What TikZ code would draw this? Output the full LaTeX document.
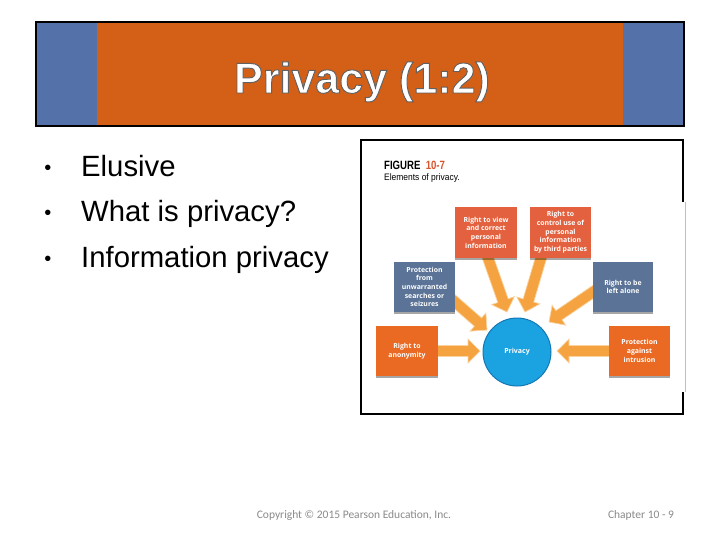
\documentclass[tikz,border=0pt]{standalone}
\usepackage{fontspec}
\setmainfont{Liberation Sans}
\newfontfamily\figfont{Open Sans}
\newfontfamily\footfont{Carlito}
\usetikzlibrary{calc,shadows}
\definecolor{barblue}{HTML}{5571A9}
\definecolor{barorange}{HTML}{D45F16}
\definecolor{boxred}{HTML}{E4613F}
\definecolor{boxblue}{HTML}{5A7396}
\definecolor{boxorange}{HTML}{EA6A24}
\definecolor{privblue}{HTML}{1BA3E1}
\definecolor{privedge}{HTML}{1478B4}
\definecolor{arrowor}{HTML}{F5A240}
\definecolor{arrowedge}{HTML}{FAD3A0}
\definecolor{figred}{HTML}{D9532B}
\definecolor{footgray}{HTML}{8A8A8A}

\newcommand\blkarrow[2]{%
  \coordinate (bs) at ($(#1)!-6pt!(#2)$);
  \coordinate (bh) at ($(#2)!12pt!(#1)$);
  \filldraw[arrowfill] ($(bs)!5.5pt!90:(#2)$) -- ($(bh)!5.5pt!-90:(bs)$)
    -- ($(bh)!12pt!-90:(bs)$) -- (#2) -- ($(bh)!12pt!90:(bs)$)
    -- ($(bh)!5.5pt!90:(bs)$) -- ($(bs)!5.5pt!-90:(#2)$) -- cycle;}

\tikzset{
  arrowfill/.style={fill=arrowor, draw=arrowedge, line width=0.7pt, line join=miter},
  figbox/.style={minimum width=61pt, minimum height=50pt, inner sep=1pt, align=center,
    text=white, font=\figfont\bfseries\fontsize{6.9}{8.7}\selectfont,
    drop shadow={shadow xshift=0.4pt, shadow yshift=-1.6pt, fill=black, opacity=0.35}},
  titletext/.style={anchor=base, inner sep=0pt, font=\fontsize{43}{50}\selectfont\bfseries},
  bulletdot/.style={anchor=base, inner sep=0pt, font=\fontsize{20}{24}\selectfont},
  bullettext/.style={anchor=base west, inner sep=0pt, font=\fontsize{29.3}{34}\selectfont},
  foot/.style={inner sep=0pt, text=footgray, font=\footfont\fontsize{11.5}{13}\selectfont}
}

\begin{document}
\begin{tikzpicture}[x=1pt,y=-1pt]
\useasboundingbox (0,0) rectangle (720,540);
\fill[white] (0,0) rectangle (720,540);

% title bar
\fill[barblue] (36,22) rectangle (684,126);
\fill[barorange] (97,22) rectangle (623,126);
\draw[line width=1.8pt] (36,22) rectangle (684,126);
\node[titletext, text=white] (title) at (362,93)
  {\addfontfeature{FakeBold=2.2}\special{pdf:code 0.38 0.38 0.38 RG}Privacy (1:2)};

% bullets
\node[bulletdot] (d1) at (48,175) {•};
\node[bullettext] (l1) at (81,177) {Elusive};
\node[bulletdot] (d2) at (48,220) {•};
\node[bullettext] (l2) at (81,222) {What is privacy?};
\node[bulletdot] (d3) at (48,265) {•};
\node[bullettext] (l3) at (81,267) {Information privacy};

% figure frame
\draw[line width=2pt] (683,202) -- (683,140) -- (361,140) -- (361,414) -- (683,414) -- (683,392);
\draw[black!25, line width=0.6pt] (685,202) -- (685,392);

\node[anchor=base west, inner sep=0pt, xscale=0.8, font=\fontsize{12}{14}\selectfont\bfseries] (fig) at (384,170) {FIGURE\ \ \textcolor{figred}{10-7}};
\node[anchor=base west, inner sep=0pt, xscale=0.9, font=\fontsize{9.4}{11}\selectfont] (cap) at (384,181) {Elements of privacy.};

% central circle
\node[circle, minimum size=68pt, inner sep=0pt, fill=privblue, draw=privedge, line width=1pt] (priv) at (517,352) {};

% box positions
\coordinate (cview) at (486,232.5);
\coordinate (cctrl) at (560.5,232.5);
\coordinate (csrch) at (424.5,287);
\coordinate (calone) at (623,287);
\coordinate (canon) at (407,351);
\coordinate (cintr) at (639.5,351);

% arrow start and tip coordinates
\coordinate (sview) at (488,258);
\coordinate (tview) at (507,312);
\coordinate (sctrl) at (541,258);
\coordinate (tctrl) at (525,312);
\coordinate (ssrch) at (455,302);
\coordinate (tsrch) at (487,330);
\coordinate (salone) at (593,292);
\coordinate (talone) at (549,322);
\coordinate (sanon) at (438,351);
\coordinate (tanon) at (480,351);
\coordinate (sintr) at (609,351);
\coordinate (tintr) at (557,351);

\blkarrow{sview}{tview}
\blkarrow{sctrl}{tctrl}
\blkarrow{ssrch}{tsrch}
\blkarrow{salone}{talone}
\blkarrow{sanon}{tanon}
\blkarrow{sintr}{tintr}

\node[figbox, fill=boxred, minimum width=62pt, minimum height=51pt] (view) at (cview) {Right to view\\and correct\\personal\\information};
\node[figbox, fill=boxred, minimum height=51pt] (ctrl) at (cctrl) {Right to\\control use of\\personal\\information\\by third parties};
\node[figbox, fill=boxblue] (srch) at (csrch) {Protection\\from\\unwarranted\\searches or\\seizures};
\node[figbox, fill=boxblue, minimum width=60pt] (alone) at (calone) {Right to be\\left alone};
\node[figbox, fill=boxorange, minimum width=62pt] (anon) at (canon) {Right to\\anonymity};
\node[figbox, fill=boxorange] (intr) at (cintr) {Protection\\against\\intrusion};

\node[text=white, font=\figfont\bfseries\fontsize{7}{8}\selectfont] (privlabel) at (priv) {Privacy};

% footer
\node[foot] (copy) at (354,515) {Copyright © 2015 Pearson Education, Inc.};
\node[foot] (chap) at (641,515) {Chapter 10 - 9};
\end{tikzpicture}
\end{document}
